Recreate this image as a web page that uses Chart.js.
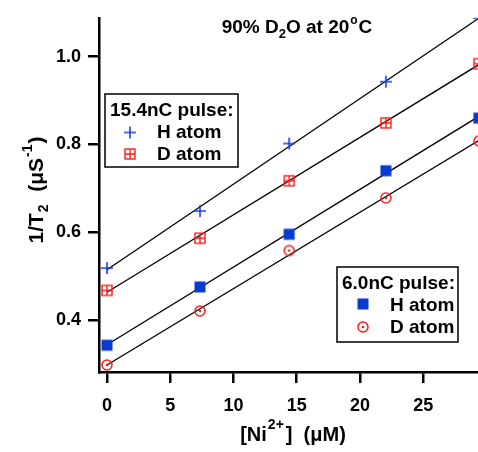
<!DOCTYPE html>
<html><head><meta charset="utf-8">
<script src="https://cdn.jsdelivr.net/npm/chart.js@4/dist/chart.umd.min.js"></script>
<style>html,body{margin:0;padding:0;background:#fff}canvas{display:block}</style>
</head><body>
<canvas id="c" width="478" height="452"></canvas>
<script>
// ---- data ----
const concentrations = [0, 7.35, 14.4, 22.05, 29.4];     // [Ni2+] (uM)
const hAtom154 = [0.518, 0.648, 0.802, 0.943, 1.088];   // 15.4nC pulse, H atom
const dAtom154 = [0.467, 0.586, 0.717, 0.849, 0.984];   // 15.4nC pulse, D atom
const hAtom60  = [0.342, 0.475, 0.595, 0.740, 0.860];   // 6.0nC pulse, H atom
const dAtom60  = [0.297, 0.420, 0.558, 0.678, 0.808];   // 6.0nC pulse, D atom
const fitX     = [0, 29.4];
const fitH154  = [0.514, 1.088];
const fitD154  = [0.463, 0.982];
const fitH60   = [0.343, 0.864];
const fitD60   = [0.297, 0.809];
const xTicks = [0, 5, 10, 15, 20, 25];
const yTicks = [0.4, 0.6, 0.8, 1.0];

const FONT = '"Liberation Sans", Arial, sans-serif';
const BLUE = '#1a3fe0';
const BLUEF = '#0a3ad0';
const RED = '#ff1a1a';

function marker(kind) {
  const c = document.createElement('canvas');
  c.width = 16; c.height = 16;
  const g = c.getContext('2d');
  const m = 8;
  if (kind === 'plus') {
    g.strokeStyle = BLUE; g.lineWidth = 1.6;
    g.beginPath(); g.moveTo(m - 6, m); g.lineTo(m + 6, m); g.moveTo(m, m - 6); g.lineTo(m, m + 6); g.stroke();
  } else if (kind === 'sqplus') {
    g.strokeStyle = RED; g.lineWidth = 1.4;
    g.strokeRect(m - 5, m - 5, 10, 10);
    g.beginPath(); g.moveTo(m - 5, m); g.lineTo(m + 5, m); g.moveTo(m, m - 5); g.lineTo(m, m + 5); g.stroke();
  } else if (kind === 'fsq') {
    g.fillStyle = BLUEF; g.fillRect(m - 5.5, m - 5.5, 11, 11);
  } else if (kind === 'circdot') {
    g.strokeStyle = RED; g.lineWidth = 1.5;
    g.beginPath(); g.arc(m, m, 5, 0, Math.PI * 2); g.stroke();
    g.fillStyle = RED; g.beginPath(); g.arc(m, m, 1.3, 0, Math.PI * 2); g.fill();
  }
  return c;
}
const mk = { plus: marker('plus'), sqplus: marker('sqplus'), fsq: marker('fsq'), circdot: marker('circdot') };

const pts = (ys) => concentrations.map((x, i) => ({ x, y: ys[i] }));
const fit = (ys) => fitX.map((x, i) => ({ x, y: ys[i] }));

function lineDs(ys) {
  return { data: fit(ys), showLine: true, borderColor: '#000', borderWidth: 1.3, pointRadius: 0, fill: false, order: 2 };
}
function ptDs(ys, img) {
  return { data: pts(ys), showLine: false, pointStyle: img, pointRadius: 7, order: 1 };
}

function richWidth(ctx, parts) {
  let w = 0;
  for (const [t, s, dy, gap] of parts) { ctx.font = 'bold ' + s + 'px ' + FONT; w += ctx.measureText(t).width + (gap || 0); }
  return w;
}
function drawRich(ctx, parts, x, y, align) {
  let cx = x;
  if (align === 'center') cx = x - richWidth(ctx, parts) / 2;
  ctx.textBaseline = 'alphabetic'; ctx.textAlign = 'left'; ctx.fillStyle = '#000';
  for (const [t, s, dy, gap] of parts) {
    ctx.font = 'bold ' + s + 'px ' + FONT;
    ctx.fillText(t, cx, y + (dy || 0));
    cx += ctx.measureText(t).width + (gap || 0);
  }
}

const textPlugin = {
  id: 'texts',
  afterDraw(chart) {
    const ctx = chart.ctx;
    ctx.save();
    // title
    drawRich(ctx, [['90% D', 19, 0], ['2', 13, 5], ['O at 20', 19, 0, 1], ['o', 12, -9, 1], ['C', 19, 0]], 297, 33, 'center');
    // x axis title
    drawRich(ctx, [['[Ni', 20, 0, 1], ['2+', 14, -12, 2], [']  (\u03BCM)', 20, 0]], 293, 441, 'center');
    // y axis title
    ctx.save();
    ctx.translate(43, 190);
    ctx.rotate(-Math.PI / 2);
    drawRich(ctx, [['1/T', 21, 0, 1], ['2', 14, 5, 1], ['  (\u03BCS', 21, 0, 1], ['-1', 14, -11, 1], [')', 21, 0]], 0, 0, 'center');
    ctx.restore();
    // legend 1
    ctx.fillStyle = '#fff'; ctx.fillRect(105, 94, 133, 73);
    ctx.strokeStyle = '#000'; ctx.lineWidth = 1.5; ctx.strokeRect(105, 94, 133, 73);
    drawRich(ctx, [['15.4nC pulse:', 19, 0]], 110, 116, 'left');
    drawRich(ctx, [['H atom', 19, 0]], 157, 138, 'left');
    drawRich(ctx, [['D atom', 19, 0]], 157, 160, 'left');
    ctx.drawImage(mk.plus, 130 - 8, 132.5 - 8);
    ctx.drawImage(mk.sqplus, 130 - 8, 154 - 8);
    // legend 2
    ctx.fillStyle = '#fff'; ctx.fillRect(337, 267, 121, 75);
    ctx.strokeStyle = '#000'; ctx.lineWidth = 1.5; ctx.strokeRect(337, 267, 121, 75);
    drawRich(ctx, [['6.0nC pulse:', 19, 0]], 342, 289, 'left');
    drawRich(ctx, [['H atom', 19, 0]], 390, 311, 'left');
    drawRich(ctx, [['D atom', 19, 0]], 390, 333, 'left');
    ctx.drawImage(mk.fsq, 363 - 8, 304 - 8);
    ctx.drawImage(mk.circdot, 363 - 8, 327 - 8);
    ctx.restore();
  }
};

new Chart(document.getElementById('c'), {
  type: 'scatter',
  data: {
    datasets: [
      lineDs(fitH154), lineDs(fitD154), lineDs(fitH60), lineDs(fitD60),
      ptDs(hAtom154, mk.plus), ptDs(dAtom154, mk.sqplus), ptDs(hAtom60, mk.fsq), ptDs(dAtom60, mk.circdot)
    ]
  },
  options: {
    responsive: false,
    animation: false,
    events: [],
    layout: { autoPadding: false, padding: { top: 14, right: 0, left: 0, bottom: 0 } },
    plugins: { legend: { display: false }, title: { display: false }, tooltip: { enabled: false } },
    scales: {
      x: {
        type: 'linear', min: -0.63, max: 29.33,
        afterBuildTicks: (s) => { s.ticks = xTicks.map(v => ({ value: v })); },
        afterFit: (s) => { s.height = 80; },
        border: { display: true, color: '#000', width: 2.5 },
        grid: { drawOnChartArea: false, drawTicks: true, tickLength: 11, color: '#000', lineWidth: 2.5 },
        ticks: { color: '#000', padding: 12, maxRotation: 0, font: { family: FONT, size: 18, weight: 'bold' }, callback: (v) => String(v) }
      },
      y: {
        type: 'linear', min: 0.281, max: 1.0887,
        afterBuildTicks: (s) => { s.ticks = yTicks.map(v => ({ value: v })); },
        afterFit: (s) => { s.width = 99; },
        border: { display: true, color: '#000', width: 2.5 },
        grid: { drawOnChartArea: false, drawTicks: true, tickLength: 11, color: '#000', lineWidth: 2.5 },
        ticks: { color: '#000', padding: 7, font: { family: FONT, size: 18, weight: 'bold' }, callback: (v) => Number(v).toFixed(1) }
      }
    }
  },
  plugins: [textPlugin]
});
</script>
</body></html>
